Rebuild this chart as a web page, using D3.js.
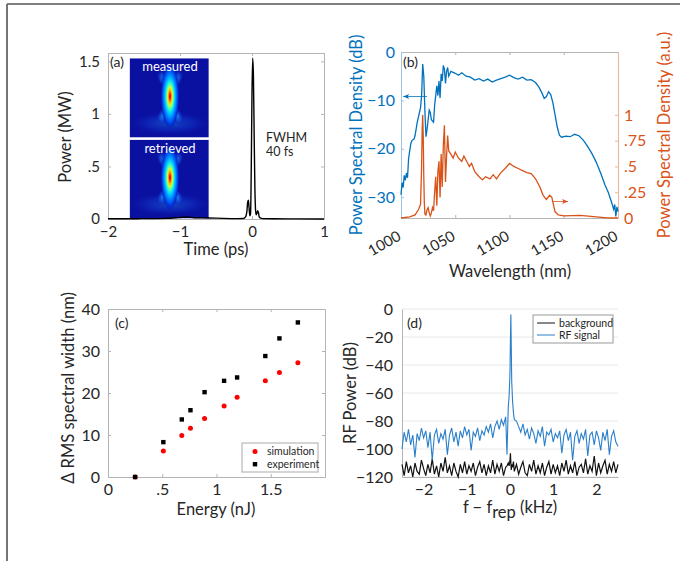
<!DOCTYPE html>
<html>
<head>
<meta charset="utf-8">
<script src="https://cdn.jsdelivr.net/npm/d3@7"></script>
<style>
  body { margin: 0; background: #fff; }
  svg { font-family: Lato, "DejaVu Sans", sans-serif; }
</style>
</head>
<body>
<svg id="fig" width="680" height="561"></svg>
<script>
// ---- (a) temporal pulse
const pulseTime = [-2,-1.6,-1.2,-1,-0.9,-0.8,-0.6,-0.4,-0.2,-0.12,
  -0.09,-0.07,-0.06,-0.05,-0.04,-0.03,-0.02,-0.01,0,0.01,
  0.02,0.03,0.04,0.05,0.06,0.07,0.08,0.09,0.1,0.12,
  0.15,0.3,0.6,1];
const pulsePower = [0.002,0.003,0.006,0.015,0.02,0.012,0.01,0.006,0.004,0.005,
  0.02,0.08,0.16,0.18,0.1,0.03,0.05,0.5,1.2,1.53,
  1.35,0.8,0.3,0.08,0.04,0.06,0.08,0.06,0.02,0.008,
  0.004,0.002,0.001,0];
const timeTicks = [-2,-1,0,1];
const powerTicks = [0,0.5,1,1.5];

// ---- (b) spectrum, dB (blue) and linear (orange)
const wlBlue = [1000,1001,1002,1003,1004,1005,1006,1007,1008,1009,
  1010,1012,1013,1015,1016,1018,1019,1020,1021,1022,
  1023,1024,1026,1027,1028,1030,1031,1033,1034,1035,
  1036,1037,1038,1039,1040,1041,1042,1043,1044,1046,
  1048,1050,1053,1056,1060,1064,1068,1072,1076,1080,
  1084,1088,1092,1096,1100,1104,1108,1112,1116,1120,
  1124,1127,1130,1132,1134,1136,1138,1140,1142,1144,
  1146,1148,1152,1156,1160,1164,1168,1172,1176,1180,
  1184,1188,1191,1194,1196,1197,1198,1199,1200];
const psdDb = [-29.5,-27,-28,-25.5,-26.5,-25,-26,-22,-20.5,-19,
  -18.3,-18,-17.2,-14.5,-13.5,-11.5,-9,-2.5,-5,-12,
  -17.5,-16,-12,-12.5,-14,-14.5,-11,-7,-9,-6,
  -9.5,-4.5,-6,-2.8,-3.5,-6.5,-4,-3.2,-5,-4,
  -4.2,-4.4,-4.8,-4.3,-5,-5.2,-5.8,-5.5,-6,-5.6,
  -6.2,-5.8,-5.5,-5.2,-4.8,-5.3,-5.6,-5.2,-5.8,-5.7,
  -6.3,-7.2,-8.5,-9.6,-9.2,-8.2,-8.8,-10.5,-13,-15.5,
  -17.2,-17.6,-17.4,-17.5,-17,-17.3,-18.2,-19.5,-21,-22.8,
  -25,-27.5,-29,-31,-32.5,-31.5,-34,-32,-33];
const wlOrange = [1000,1008,1013,1016,1018,1019,1019.5,1020,1020.5,1021,
  1021.5,1022,1023,1024,1025,1026,1027,1028,1029,1030,
  1031,1032,1033,1034,1035,1036,1037,1038,1039,1040,
  1041,1042,1043,1044,1046,1048,1050,1053,1056,1058,
  1060,1063,1065,1068,1072,1075,1078,1082,1085,1088,
  1092,1096,1100,1104,1108,1112,1116,1120,1124,1128,
  1131,1134,1137,1139,1142,1145,1150,1165,1180,1190,
  1200];
const psdLin = [0,0.01,0.03,0.08,0.13,0.5,0.85,1.0,0.8,0.4,
  0.15,0.04,0.03,0.08,0.1,0.05,0.02,0.05,0.1,0.07,
  0.25,0.4,0.12,0.45,0.55,0.2,0.62,0.3,0.7,0.9,
  0.35,0.6,0.8,0.65,0.62,0.58,0.64,0.58,0.55,0.6,
  0.56,0.5,0.53,0.45,0.4,0.37,0.4,0.38,0.42,0.38,
  0.44,0.48,0.53,0.5,0.48,0.46,0.44,0.43,0.38,0.3,
  0.22,0.18,0.22,0.2,0.06,0.03,0.02,0.025,0.01,0.002,
  0];
const wlTicks = [1000,1050,1100,1150,1200];
const dbTicks = [-30,-20,-10,0];
const linTicks = [0,0.25,0.5,0.75,1];

// ---- (c) spectral broadening vs energy
const energy = [0.25,0.51,0.68,0.76,0.89,1.07,1.19,1.45,1.58,1.75];
const widthSim = [0,6.2,9.9,11.6,13.9,16.9,19.0,22.9,24.9,27.2];
const widthExp = [0,8.3,13.7,15.9,20.2,22.9,23.7,28.8,33,36.8];
const energyTicks = [0,0.5,1,1.5];
const widthTicks = [0,10,20,30,40];

// ---- (d) RF spectrum
const rfFreq = [-2.5,-2.45,-2.4,-2.35,-2.3,-2.25,-2.2,-2.15,-2.1,-2.05,
  -2,-1.95,-1.9,-1.85,-1.8,-1.75,-1.7,-1.65,-1.6,-1.55,
  -1.5,-1.45,-1.4,-1.35,-1.3,-1.25,-1.2,-1.15,-1.1,-1.05,
  -1,-0.95,-0.9,-0.85,-0.8,-0.75,-0.7,-0.65,-0.6,-0.55,
  -0.5,-0.45,-0.4,-0.35,-0.3,-0.25,-0.2,-0.15,-0.1,-0.07,
  -0.04,-0.02,0,0.01,0.02,0.03,0.04,0.06,0.08,0.1,
  0.15,0.2,0.25,0.3,0.35,0.4,0.45,0.5,0.55,0.6,
  0.65,0.7,0.75,0.8,0.85,0.9,0.95,1,1.05,1.1,
  1.15,1.2,1.25,1.3,1.35,1.4,1.45,1.5,1.55,1.6,
  1.65,1.7,1.75,1.8,1.85,1.9,1.95,2,2.05,2.1,
  2.15,2.2,2.25,2.3,2.35,2.4,2.45,2.5];
const rfSignal = [-100,-88,-95,-86,-97,-90,-106,-89,-94,-85,
  -92,-87,-99,-88,-108,-90,-86,-96,-89,-93,
  -86,-104,-90,-85,-95,-88,-98,-87,-92,-84,
  -90,-86,-101,-88,-91,-85,-94,-87,-90,-84,
  -88,-82,-92,-84,-80,-86,-79,-83,-77,-104,
  -70,-62,-45,-22,-4,-28,-52,-66,-74,-79,
  -80,-84,-88,-82,-90,-86,-93,-85,-89,-96,
  -87,-91,-84,-98,-88,-90,-86,-95,-89,-92,
  -87,-103,-90,-86,-94,-88,-108,-91,-87,-96,
  -89,-93,-86,-105,-90,-88,-97,-87,-92,-101,
  -88,-94,-86,-104,-91,-87,-95,-98];
const rfBackground = [-111,-119,-109,-117,-112,-120,-110,-116,-118,-108,
  -114,-119,-111,-117,-107,-118,-112,-120,-110,-116,
  -106,-117,-112,-119,-110,-116,-120,-111,-117,-109,
  -118,-112,-116,-110,-119,-113,-109,-117,-111,-119,
  -112,-117,-108,-118,-111,-116,-110,-119,-113,-112,
  -110,-112,-108,-103,-110,-115,-111,-113,-109,-116,
  -111,-118,-113,-109,-117,-119,-111,-116,-108,-118,
  -112,-117,-110,-119,-113,-109,-118,-111,-117,-112,
  -119,-110,-116,-108,-118,-112,-117,-109,-119,-113,
  -111,-117,-107,-118,-112,-116,-105,-119,-110,-117,
  -112,-108,-118,-111,-116,-109,-117,-111];
const freqTicks = [-2,-1,0,1,2];
const rfTicks = [-120,-100,-80,-60,-40,-20,0];

// ------------------------------------------------------------------
const svg = d3.select("#fig");
const defs = svg.append("defs");
const txt = "#262626", boxCol = "#b4b4b4";
const blue = "#0072BD", orange = "#D95319";
const noLead = d => d3.format("")(d).replace(/^0\./, ".").replace(/^−0\./, "−.");

// figure frame lines
svg.append("line").attr("x1", 7).attr("y1", 4).attr("x2", 680).attr("y2", 4)
  .attr("stroke", "#555").attr("stroke-width", 1.4);
svg.append("line").attr("x1", 7).attr("y1", 4).attr("x2", 7).attr("y2", 561)
  .attr("stroke", "#666").attr("stroke-width", 1.8);

function styleAxis(sel, col, textCol, size) {
  sel.attr("font-family", null).attr("font-size", size);
  sel.select(".domain").attr("stroke", col);
  sel.selectAll(".tick line").attr("stroke", col);
  sel.selectAll(".tick text").attr("fill", textCol);
}

// matlab-like box: labelled left/bottom, mirrored ticks top/right
function boxAxes(g, x, y, xt, yt, fx, fy, size) {
  const [x0, x1] = x.range(), [y0, y1] = y.range();
  g.append("g").attr("transform", `translate(0,${y0})`)
    .call(d3.axisBottom(x).tickValues(xt).tickFormat(fx).tickSizeInner(-3).tickSizeOuter(0).tickPadding(7))
    .call(s => styleAxis(s, boxCol, txt, size));
  g.append("g").attr("transform", `translate(${x0},0)`)
    .call(d3.axisLeft(y).tickValues(yt).tickFormat(fy).tickSizeInner(-3).tickSizeOuter(0).tickPadding(8))
    .call(s => styleAxis(s, boxCol, txt, size));
  g.append("g").attr("transform", `translate(0,${y1})`)
    .call(d3.axisTop(x).tickValues(xt).tickFormat("").tickSizeInner(-3).tickSizeOuter(0))
    .call(s => styleAxis(s, boxCol, txt, size));
  g.append("g").attr("transform", `translate(${x1},0)`)
    .call(d3.axisRight(y).tickValues(yt).tickFormat("").tickSizeInner(-3).tickSizeOuter(0))
    .call(s => styleAxis(s, boxCol, txt, size));
}

function yLabel(g, x, y, text, col) {
  g.append("text").attr("transform", `translate(${x},${y}) rotate(-90)`)
    .attr("text-anchor", "middle").attr("font-size", 16.5).attr("fill", col).text(text);
}

// jet-ish gradients for the FROG insets
const core = defs.append("radialGradient").attr("id", "jetCore");
[[0, "#b40000"], [0.08, "#ff1a00"], [0.18, "#ffb400"], [0.28, "#c8ff38"],
 [0.38, "#40ffc0"], [0.5, "#00d0ff"], [0.68, "#0078ff"], [0.86, "#0030d8"], [1, "#0a10a0", 0]]
  .forEach(([o, c, a]) => core.append("stop").attr("offset", o).attr("stop-color", c)
    .attr("stop-opacity", a === undefined ? 1 : a));
const flare = defs.append("radialGradient").attr("id", "jetFlare");
[[0, "#28b4ff", 1], [0.55, "#1458ec", 0.7], [1, "#0a10a0", 0]]
  .forEach(([o, c, a]) => flare.append("stop").attr("offset", o).attr("stop-color", c).attr("stop-opacity", a));

function frogInset(g, x0, y0, w, h, label, id) {
  defs.append("clipPath").attr("id", id).append("rect")
    .attr("x", x0).attr("y", y0).attr("width", w).attr("height", h);
  const cg = g.append("g").attr("clip-path", `url(#${id})`);
  cg.append("rect").attr("x", x0).attr("y", y0).attr("width", w).attr("height", h).attr("fill", "#0a10a0");
  const cx = x0 + w * 0.51, cy = y0 + h * 0.48;
  cg.append("ellipse").attr("cx", cx).attr("cy", y0 + h * 0.82).attr("rx", w * 0.55).attr("ry", h * 0.16)
    .attr("fill", "url(#jetFlare)").attr("opacity", 0.35);
  [[-1, -0.22], [1, -0.22], [-1, 0.24], [1, 0.24]].forEach(([s, dy]) => {
    cg.append("ellipse").attr("cx", cx + s * w * 0.08).attr("cy", cy + dy * h)
      .attr("rx", w * 0.08).attr("ry", h * 0.13)
      .attr("transform", `rotate(${s * (dy < 0 ? 30 : -30)},${cx + s * w * 0.08},${cy + dy * h})`)
      .attr("fill", "url(#jetFlare)").attr("opacity", 0.8);
  });
  cg.append("ellipse").attr("cx", cx).attr("cy", cy - h * 0.22).attr("rx", w * 0.12).attr("ry", h * 0.12)
    .attr("fill", "url(#jetFlare)");
  cg.append("ellipse").attr("cx", cx).attr("cy", cy).attr("rx", w * 0.12).attr("ry", h * 0.42)
    .attr("fill", "url(#jetCore)");
  g.append("text").attr("x", cx).attr("y", y0 + 13).attr("text-anchor", "middle")
    .attr("font-size", 13).attr("fill", "#fff").text(label);
}

// ---------------- (a)
{
  const g = svg.append("g");
  const x = d3.scaleLinear().domain([-2, 1]).range([108, 324]);
  const y = d3.scaleLinear().domain([0, 1.58]).range([219, 53]);
  boxAxes(g, x, y, timeTicks, powerTicks, d3.format(""), noLead, 15);
  const xl = x(-1.7), xr = x(-0.6);
  frogInset(g, xl, y(1.53), xr - xl, y(0.775) - y(1.53), "measured", "clipM");
  frogInset(g, xl, y(0.755), xr - xl, y(0.005) - y(0.755), "retrieved", "clipR");
  g.append("path").datum(pulseTime.map((t, i) => [t, pulsePower[i]]))
    .attr("fill", "none").attr("stroke", "#000").attr("stroke-width", 1.4)
    .attr("d", d3.line().x(d => x(d[0])).y(d => y(d[1])).curve(d3.curveMonotoneX));
  g.append("text").attr("x", 110).attr("y", 67).attr("font-size", 14).attr("fill", txt).text("(a)");
  g.append("text").attr("x", 266).attr("y", 142).attr("font-size", 12.5).attr("fill", txt).text("FWHM");
  g.append("text").attr("x", 266).attr("y", 156).attr("font-size", 12.5).attr("fill", txt).text("40 fs");
  g.append("text").attr("x", 216).attr("y", 255).attr("text-anchor", "middle")
    .attr("font-size", 16.5).attr("fill", txt).text("Time (ps)");
  yLabel(g, 71, 137, "Power (MW)", txt);
}

// ---------------- (b)
{
  const g = svg.append("g");
  const x = d3.scaleLinear().domain([1000, 1200]).range([401, 618]);
  const yL = d3.scaleLinear().domain([-34.3, 0]).range([218, 52]);
  const yR = d3.scaleLinear().domain([0, 1.61]).range([218, 52]);
  const gx = g.append("g").attr("transform", "translate(0,218)")
    .call(d3.axisBottom(x).tickValues(wlTicks).tickFormat(d3.format("")).tickSizeInner(-3).tickSizeOuter(0).tickPadding(7))
    .call(s => styleAxis(s, boxCol, txt, 15));
  gx.selectAll(".tick text").attr("text-anchor", "end").attr("dy", null)
    .attr("transform", "translate(-3,15) rotate(-30)");
  g.append("g").attr("transform", "translate(0,52)")
    .call(d3.axisTop(x).tickValues(wlTicks).tickFormat("").tickSizeInner(-3).tickSizeOuter(0))
    .call(s => styleAxis(s, boxCol, txt, 15));
  g.append("g").attr("transform", "translate(401,0)")
    .call(d3.axisLeft(yL).tickValues(dbTicks).tickFormat(d3.format("")).tickSizeInner(-3).tickSizeOuter(0).tickPadding(6))
    .call(s => styleAxis(s, "#9cc3e2", blue, 16));
  g.append("g").attr("transform", "translate(618,0)")
    .call(d3.axisRight(yR).tickValues(linTicks).tickFormat(noLead).tickSizeInner(-3).tickSizeOuter(0).tickPadding(6))
    .call(s => styleAxis(s, "#eeb49a", orange, 16));

  g.append("path").datum(wlOrange.map((w, i) => [w, psdLin[i]]))
    .attr("fill", "none").attr("stroke", orange).attr("stroke-width", 1.3)
    .attr("d", d3.line().x(d => x(d[0])).y(d => yR(d[1])));
  g.append("path").datum(wlBlue.map((w, i) => [w, psdDb[i]]))
    .attr("fill", "none").attr("stroke", blue).attr("stroke-width", 1.3)
    .attr("d", d3.line().x(d => x(d[0])).y(d => yL(d[1])));

  // arrows showing which axis each curve belongs to
  const arrow = (x1, x2, yy, col) => {
    g.append("line").attr("x1", x1).attr("x2", x2).attr("y1", yy).attr("y2", yy)
      .attr("stroke", col).attr("stroke-width", 0.8);
    const d = Math.sign(x2 - x1);
    g.append("path").attr("d", `M${x2},${yy} l${-d * 6},-2.5 l${d * 1.5},2.5 l${-d * 1.5},2.5 Z`).attr("fill", col);
  };
  arrow(x(1024), x(1002), yL(-9.2), blue);
  arrow(x(1139), x(1154), yR(0.16), orange);

  g.append("text").attr("x", 403).attr("y", 67).attr("font-size", 14).attr("fill", txt).text("(b)");
  g.append("text").attr("x", 510).attr("y", 277).attr("text-anchor", "middle")
    .attr("font-size", 16.5).attr("fill", txt).text("Wavelength (nm)");
  yLabel(g, 362, 135, "Power Spectral Density (dB)", blue);
  yLabel(g, 670, 135, "Power Spectral Density (a.u.)", orange);
}

// ---------------- (c)
{
  const g = svg.append("g");
  const x = d3.scaleLinear().domain([0, 2]).range([108, 325]);
  const y = d3.scaleLinear().domain([0, 40]).range([477, 309]);
  boxAxes(g, x, y, energyTicks, widthTicks, noLead, d3.format(""), 16);
  g.selectAll(".sim").data(energy).join("circle").attr("class", "sim")
    .attr("cx", d => x(d)).attr("cy", (d, i) => y(widthSim[i])).attr("r", 2.5).attr("fill", "#f00");
  g.selectAll(".exp").data(energy).join("rect").attr("class", "exp")
    .attr("x", d => x(d) - 2.2).attr("y", (d, i) => y(widthExp[i]) - 2.2)
    .attr("width", 4.4).attr("height", 4.4).attr("fill", "#000");
  const lg = g.append("g").attr("transform", "translate(242,443)");
  lg.append("rect").attr("width", 76).attr("height", 29).attr("fill", "#fff").attr("stroke", "#aaa");
  lg.append("circle").attr("cx", 13).attr("cy", 8.5).attr("r", 2.5).attr("fill", "#f00");
  lg.append("rect").attr("x", 10.8).attr("y", 19).attr("width", 4.4).attr("height", 4.4).attr("fill", "#000");
  lg.append("text").attr("x", 25).attr("y", 12).attr("font-size", 10.5).attr("fill", txt).text("simulation");
  lg.append("text").attr("x", 25).attr("y", 25).attr("font-size", 10.5).attr("fill", txt).text("experiment");
  g.append("text").attr("x", 115).attr("y", 328).attr("font-size", 14).attr("fill", txt).text("(c)");
  g.append("text").attr("x", 216).attr("y", 515).attr("text-anchor", "middle")
    .attr("font-size", 16.5).attr("fill", txt).text("Energy (nJ)");
  yLabel(g, 74, 388, "Δ RMS spectral width (nm)", txt);
}

// ---------------- (d)
{
  const g = svg.append("g");
  const x = d3.scaleLinear().domain([-2.5, 2.5]).range([402, 618]);
  const y = d3.scaleLinear().domain([-120, 0]).range([477, 309]);
  g.selectAll(".grid").data(rfTicks).join("line").attr("class", "grid")
    .attr("x1", 402).attr("x2", 618).attr("y1", d => y(d)).attr("y2", d => y(d))
    .attr("stroke", "#e8e8e8");
  g.append("g").attr("transform", "translate(0,477)")
    .call(d3.axisBottom(x).tickValues(freqTicks).tickFormat(d3.format("")).tickSize(0).tickPadding(7))
    .call(s => styleAxis(s, boxCol, txt, 16));
  g.append("g").attr("transform", "translate(402,0)")
    .call(d3.axisLeft(y).tickValues(rfTicks).tickFormat(d3.format("")).tickSize(0).tickPadding(9))
    .call(s => styleAxis(s, boxCol, txt, 16));
  const line = d3.line().x(d => x(d[0])).y(d => y(d[1]));
  g.append("path").datum(rfFreq.map((f, i) => [f, rfBackground[i]]))
    .attr("fill", "none").attr("stroke", "#111").attr("stroke-width", 1.2).attr("d", line);
  g.append("path").datum(rfFreq.map((f, i) => [f, rfSignal[i]]))
    .attr("fill", "none").attr("stroke", "#2a7fca").attr("stroke-width", 1.1).attr("d", line);
  const lg = g.append("g").attr("transform", "translate(533,315)");
  lg.append("rect").attr("width", 80).attr("height", 28).attr("fill", "#fff").attr("stroke", "#999");
  lg.append("line").attr("x1", 4).attr("x2", 22).attr("y1", 8).attr("y2", 8).attr("stroke", "#111");
  lg.append("line").attr("x1", 4).attr("x2", 22).attr("y1", 20).attr("y2", 20).attr("stroke", "#2a7fca");
  lg.append("text").attr("x", 26).attr("y", 11.5).attr("font-size", 10.5).attr("fill", txt).text("background");
  lg.append("text").attr("x", 26).attr("y", 23.5).attr("font-size", 10.5).attr("fill", txt).text("RF  signal");
  g.append("text").attr("x", 407).attr("y", 328).attr("font-size", 14).attr("fill", txt).text("(d)");
  const xl = g.append("text").attr("x", 510).attr("y", 513).attr("text-anchor", "middle")
    .attr("font-size", 16.5).attr("fill", txt);
  xl.append("tspan").text("f − f");
  xl.append("tspan").attr("dy", 5).text("rep");
  xl.append("tspan").attr("dy", -5).text(" (kHz)");
  yLabel(g, 356, 393, "RF Power (dB)", txt);
}
</script>
</body>
</html>
